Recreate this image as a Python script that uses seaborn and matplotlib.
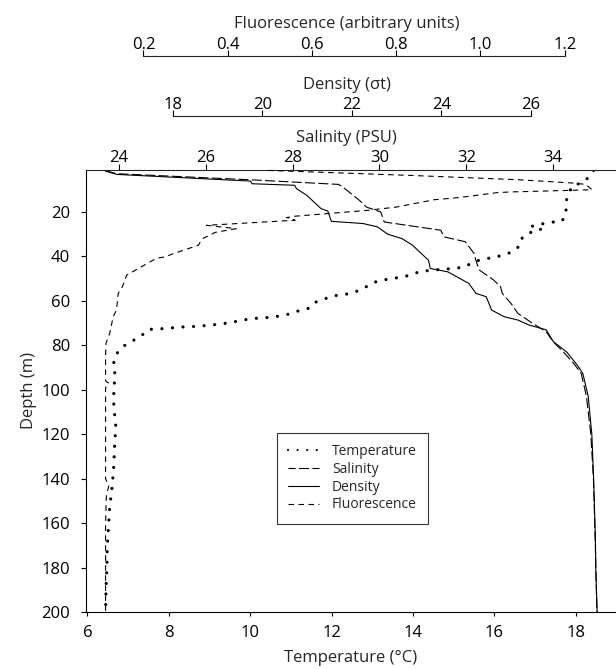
import matplotlib
matplotlib.use("Agg")
import matplotlib.pyplot as plt
from matplotlib.lines import Line2D
from matplotlib.ticker import FormatStrFormatter
import seaborn as sns

# CTD profile
temp_depth = [1.3, 4.6, 7.0, 8.0, 12.2, 16.4, 20.7, 24.2, 24.6, 25.4, 26.4, 27.5, 28.5, 29.4,
              32.0, 35.1, 37.9, 39.4, 40.5, 41.2, 42.4, 44.7, 45.4, 45.7, 46.1, 46.6, 47.6,
              48.7, 49.6, 50.3, 51.1, 52.9, 54.8, 56.6, 57.2, 57.8, 59.3, 60.8, 63.3, 64.4,
              65.9, 66.8, 67.4, 67.7, 68.1, 69.0, 69.8, 70.5, 70.9, 71.4, 71.6, 71.8, 72.3,
              72.6, 72.8, 74.5, 76.9, 79.0, 81.4, 85.0, 89.6, 93.9, 98.3, 107.4, 116.4,
              125.3, 134.3, 143.6, 152.6, 161.8, 171.0, 180.1, 189.2, 200.0]
temperature = [18.44, 18.31, 18.14, 17.93, 17.81, 17.75, 17.77, 17.66, 17.41, 17.16, 16.93,
               17.15, 17.10, 16.84, 16.67, 16.63, 16.45, 16.21, 15.98, 15.72, 15.50, 15.27,
               15.01, 14.77, 14.51, 14.25, 14.03, 13.86, 13.60, 13.36, 13.12, 12.93, 12.73,
               12.50, 12.26, 12.02, 11.80, 11.57, 11.44, 11.20, 10.96, 10.72, 10.48, 10.22,
               9.98, 9.72, 9.49, 9.23, 8.99, 8.74, 8.49, 8.24, 7.98, 7.74, 7.50, 7.41, 7.22,
               7.00, 6.81, 6.68, 6.63, 6.70, 6.65, 6.65, 6.70, 6.67, 6.65, 6.61, 6.55, 6.52,
               6.49, 6.48, 6.46, 6.45]

sal_depth = [1.5, 2.8, 5.5, 7.6, 9.5, 14.8, 17.8, 20.0, 24.5, 28.2, 31.2, 33.4, 38.7, 41.7,
             46.1, 50.6, 53.6, 56.6, 61.1, 65.6, 70.0, 73.8, 78.3, 83.0, 88.2, 92.7, 103.0,
             120.0, 140.0, 167.0, 200.0]
salinity = [23.69, 23.95, 27.0, 29.06, 29.2, 29.54, 29.70, 30.03, 30.11, 31.41, 31.49, 31.98,
            32.18, 32.22, 32.30, 32.63, 32.79, 32.83, 33.03, 33.19, 33.52, 33.84, 34.00,
            34.24, 34.48, 34.65, 34.77, 34.87, 34.93, 34.97, 35.01]

dens_depth = [1.6, 3.1, 6.1, 7.3, 8.0, 9.5, 12.5, 15.5, 18.5, 19.6, 24.2, 25.2, 26.7, 30.0,
              32.0, 34.9, 41.7, 45.4, 46.9, 52.1, 56.6, 58.1, 64.1, 67.1, 68.6, 70.8, 73.0,
              78.3, 83.0, 89.0, 92.7, 103.0, 120.0, 140.0, 167.0, 182.0, 200.0]
density = [16.49, 16.74, 19.73, 19.77, 20.72, 20.76, 20.99, 21.15, 21.31, 21.46, 21.54, 22.25,
           22.57, 22.80, 23.12, 23.35, 23.71, 23.75, 24.14, 24.61, 24.77, 25.00, 25.12, 25.40,
           25.71, 25.95, 26.34, 26.50, 26.80, 27.04, 27.16, 27.28, 27.36, 27.40, 27.44, 27.45,
           27.48]

fluo_depth = [1.3, 3.6, 5.5, 7.0, 7.6, 10.0, 11.0, 11.3, 13.5, 14.5, 17.8, 19.3, 21.9, 22.5,
              23.7, 26.0, 27.5, 29.2, 32.0, 35.0, 37.5, 40.2, 40.9, 48.4, 53.6, 56.6, 64.1,
              67.1, 74.5, 79.0, 85.0, 96.0, 97.0, 99.0, 140.0, 143.0, 147.0, 160.0, 200.0]
fluorescence = [0.496, 0.84, 1.09, 1.22, 1.25, 1.265, 1.07, 1.04, 0.95, 0.89, 0.80, 0.73, 0.56,
                0.54, 0.56, 0.35, 0.42, 0.37, 0.34, 0.33, 0.29, 0.25, 0.23, 0.16, 0.15, 0.14,
                0.136, 0.128, 0.12, 0.111, 0.110, 0.110, 0.118, 0.110, 0.110, 0.118, 0.112,
                0.110, 0.110]

sal_ticks = [24, 26, 28, 30, 32, 34]
dens_ticks = [18, 20, 22, 24, 26]
fluo_ticks = [0.2, 0.4, 0.6, 0.8, 1.0, 1.2]
temp_ticks = [6, 8, 10, 12, 14, 16, 18]
depth_ticks = [20, 40, 60, 80, 100, 120, 140, 160, 180, 200]

sns.set_style("ticks")
plt.rcParams["font.family"] = ["Open Sans", "DejaVu Sans"]
plt.rcParams["font.size"] = 12

fig = plt.figure(figsize=(6.16, 6.69), dpi=100)
ax = fig.add_axes([0.1391, 0.0848, 0.8609, 0.6615])
ax_s = ax.twiny()
ax_d = ax.twiny()
ax_f = ax.twiny()

lw = 0.8
sal_dash = (0, (9, 3))
fluo_dash = (0, (5, 4))
sns.lineplot(x=temperature, y=temp_depth, orient="y", sort=False, estimator=None, ax=ax,
             color="black", linewidth=2.3, linestyle=(0, (0.01, 3.3)),
             dash_capstyle="round", legend=False)
sns.lineplot(x=salinity, y=sal_depth, orient="y", sort=False, estimator=None, ax=ax_s,
             color="black", linewidth=lw, linestyle=sal_dash, legend=False)
sns.lineplot(x=density, y=dens_depth, orient="y", sort=False, estimator=None, ax=ax_d,
             color="black", linewidth=lw, legend=False)
sns.lineplot(x=fluorescence, y=fluo_depth, orient="y", sort=False, estimator=None, ax=ax_f,
             color="black", linewidth=lw, linestyle=fluo_dash, legend=False)

# main axes: temperature / depth
ax.set_xlim(5.96, 18.99)
ax.set_ylim(200, 1)
ax.set_xticks(temp_ticks)
ax.set_yticks(depth_ticks)
ax.set_xlabel("Temperature (°C)", labelpad=7)
ax.set_ylabel("Depth (m)", labelpad=3)
ax.spines["right"].set_visible(False)
ax.spines["top"].set_visible(False)
ax.tick_params(axis="x", length=3, width=0.8, pad=6, colors="black")
ax.tick_params(axis="y", length=3.6, width=0.8, pad=7.5, colors="black")

def setup_top(a, lim, ticks, label, offset, bounds=None):
    a.set_xlim(*lim)
    a.set_xticks(ticks)
    for s in ["left", "right", "bottom"]:
        a.spines[s].set_visible(False)
    a.spines["top"].set_position(("outward", offset))
    a.spines["top"].set_linewidth(0.8)
    if bounds is not None:
        a.spines["top"].set_bounds(*bounds)
    a.tick_params(axis="x", length=4, width=0.8, pad=-1.5, colors="black")
    a.set_xlabel(label, labelpad=6)
    a.xaxis.label.set_x(0.492)

setup_top(ax_s, (23.23, 35.45), sal_ticks, "Salinity (PSU)", 0)
setup_top(ax_d, (16.05, 27.90), dens_ticks, "Density (σt)", 38.4, (18, 26))
setup_top(ax_f, (0.0628, 1.3218), fluo_ticks, "Fluorescence (arbitrary units)", 81.9, (0.2, 1.2))
ax_f.xaxis.set_major_formatter(FormatStrFormatter("%.1f"))

for sp in ["left", "bottom"]:
    ax.spines[sp].set_linewidth(0.8)
    ax.spines[sp].set_color("black")

# legend with proxy handles (smaller dots, like the original key)
handles = [
    Line2D([], [], color="black", linewidth=1.6, linestyle=(0, (0.01, 4.3)),
           dash_capstyle="round"),
    Line2D([], [], color="black", linewidth=lw, linestyle=(2.5, (9, 3))),
    Line2D([], [], color="black", linewidth=lw),
    Line2D([], [], color="black", linewidth=lw, linestyle=fluo_dash),
]
labels = ["Temperature", "Salinity", "Density", "Fluorescence"]
leg = fig.legend(handles, labels, loc="upper left", bbox_to_anchor=(277 / 616, 1 - 433 / 669),
                 fontsize=10, frameon=True, fancybox=False, edgecolor="black",
                 handlelength=2.2, handletextpad=0.95, labelspacing=0.2, borderpad=0.8,
                 borderaxespad=0)
leg.get_frame().set_linewidth(0.8)

fig.savefig("out.png", dpi=100)
